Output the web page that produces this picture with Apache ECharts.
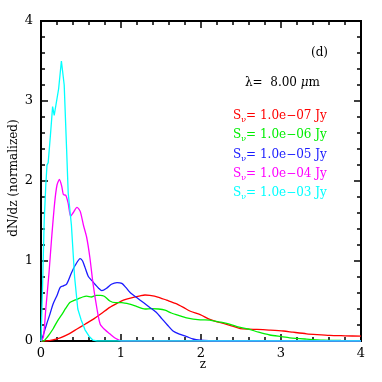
<!DOCTYPE html>
<html>
<head>
<meta charset="utf-8">
<script src="https://cdn.jsdelivr.net/npm/echarts@6/dist/echarts.min.js"></script>
<style>
  html, body { margin: 0; padding: 0; background: #fff; }
  #chart { width: 382px; height: 382px; }
</style>
</head>
<body>
<div id="chart"></div>
<script>
// dN/dz curves, [z, value]
var red = [[0,0],[0.05,0],[0.15,0.015],[0.24,0.04],[0.35,0.09],[0.45,0.15],[0.55,0.21],[0.65,0.27],[0.75,0.34],[0.86,0.42],[0.95,0.47],[1.03,0.51],[1.13,0.54],[1.24,0.565],[1.3,0.575],[1.36,0.57],[1.46,0.55],[1.57,0.51],[1.68,0.47],[1.78,0.42],[1.86,0.375],[1.99,0.33],[2.11,0.27],[2.2,0.24],[2.28,0.22],[2.38,0.19],[2.49,0.155],[2.6,0.148],[2.7,0.145],[2.85,0.137],[3.03,0.125],[3.15,0.11],[3.32,0.09],[3.45,0.08],[3.61,0.07],[3.8,0.065],[4.0,0.06]];
var green = [[0,0],[0.03,0],[0.08,0.05],[0.15,0.15],[0.2,0.24],[0.26,0.33],[0.31,0.41],[0.36,0.48],[0.42,0.51],[0.47,0.53],[0.52,0.55],[0.57,0.56],[0.63,0.55],[0.69,0.57],[0.74,0.57],[0.79,0.56],[0.86,0.5],[0.93,0.48],[1.01,0.48],[1.11,0.46],[1.2,0.43],[1.3,0.4],[1.38,0.405],[1.47,0.4],[1.55,0.385],[1.63,0.35],[1.72,0.32],[1.82,0.29],[1.99,0.265],[2.11,0.262],[2.22,0.24],[2.32,0.22],[2.45,0.18],[2.59,0.15],[2.72,0.11],[2.86,0.075],[3.0,0.055],[3.11,0.04],[3.3,0.025],[3.53,0.01],[3.75,0.006],[4.0,0.005]];
var blue = [[0,0],[0.03,0.08],[0.07,0.21],[0.11,0.33],[0.15,0.46],[0.2,0.57],[0.24,0.67],[0.28,0.69],[0.32,0.71],[0.38,0.85],[0.43,0.95],[0.49,1.03],[0.52,1.0],[0.55,0.92],[0.59,0.81],[0.63,0.76],[0.675,0.71],[0.72,0.66],[0.76,0.63],[0.82,0.66],[0.88,0.71],[0.95,0.73],[1.01,0.72],[1.06,0.67],[1.12,0.6],[1.2,0.54],[1.28,0.48],[1.36,0.42],[1.44,0.36],[1.51,0.28],[1.58,0.2],[1.65,0.125],[1.73,0.085],[1.82,0.055],[1.9,0.025],[1.99,0.01],[2.1,0.003],[2.3,0],[4,0]];
var magenta = [[0,0],[0.03,0.05],[0.06,0.4],[0.1,0.85],[0.13,1.25],[0.17,1.72],[0.2,1.95],[0.23,2.02],[0.26,1.93],[0.28,1.83],[0.31,1.82],[0.34,1.72],[0.37,1.56],[0.4,1.6],[0.45,1.67],[0.49,1.62],[0.53,1.45],[0.57,1.3],[0.61,1.05],[0.65,0.72],[0.7,0.4],[0.74,0.21],[0.8,0.14],[0.86,0.09],[0.92,0.04],[0.98,0.01],[1.0,0],[4,0]];
var cyan = [[0,0],[0.02,0.7],[0.04,1.5],[0.06,1.95],[0.075,2.2],[0.09,2.23],[0.1,2.25],[0.12,2.6],[0.145,2.93],[0.165,2.82],[0.19,2.82],[0.22,3.15],[0.255,3.5],[0.29,3.2],[0.32,2.4],[0.34,1.85],[0.38,1.45],[0.42,0.8],[0.46,0.4],[0.5,0.27],[0.55,0.14],[0.6,0.06],[0.65,0.01],[0.7,0],[4,0]];

var fluxLabels = ['1.0e\u221207', '1.0e\u221206', '1.0e\u221205', '1.0e\u221204', '1.0e\u221203'];
var colors = ['#ff0000', '#00ee00', '#1a1aff', '#ff00ff', '#00ffff'];
var curves = [red, green, blue, magenta, cyan];

var FONT = '"DejaVu Serif", serif';
var chart = echarts.init(document.getElementById('chart'));

function frameAxis(pos, showLabel) {
  return {
    show: true, gridIndex: 0, type: 'value', position: pos, min: 0, max: 4, interval: 1,
    axisLine: { show: true, onZero: false, lineStyle: { color: '#000', width: 2 } },
    axisTick: { show: true, inside: true, length: 7, lineStyle: { color: '#000', width: 1.5 } },
    minorTick: { show: true, splitNumber: 5, length: 4, lineStyle: { color: '#000', width: 1.5 } },
    splitLine: { show: false },
    axisLabel: { show: showLabel, fontFamily: FONT, fontSize: 13, color: '#000', margin: pos === 'left' ? 8 : 6 }
  };
}

var graphics = [
  { type: 'text', style: { x: 203, y: 365, text: 'z', font: '12px ' + FONT, fill: '#000', textAlign: 'center', textVerticalAlign: 'middle' } },
  { type: 'text', x: 14, y: 178, rotation: Math.PI / 2,
    style: { x: 0, y: 0, text: 'dN/dz (normalized)', font: '12px ' + FONT, fill: '#000', textAlign: 'center', textVerticalAlign: 'middle' } },
  { type: 'text', style: { x: 328, y: 53, text: '(d)', font: '12px ' + FONT, fill: '#000', textAlign: 'right', textVerticalAlign: 'middle' } },
  { type: 'text', style: { x: 245, y: 83, text: '{n|\u03bb=  8.00 }{i|\u03bc}{n|m}', textVerticalAlign: 'middle',
      rich: { n: { fontFamily: FONT, fontSize: 12, fill: '#000' }, i: { fontFamily: FONT, fontSize: 12, fontStyle: 'italic', fill: '#000' } } } }
];
var legendY = [116, 135, 154.5, 173.5, 193];
fluxLabels.forEach(function (lab, i) {
  graphics.push({ type: 'text', style: {
    x: 233, y: legendY[i], textVerticalAlign: 'middle',
    text: '{s|S}{b|\u03bd}{s|= ' + lab + ' Jy}',
    rich: {
      s: { fontFamily: FONT, fontSize: 12, lineHeight: 16, fill: colors[i] },
      b: { fontFamily: FONT, fontSize: 8, lineHeight: 8, verticalAlign: 'bottom', fill: colors[i] }
    }
  } });
});

var series = curves.map(function (pts, i) {
  return {
    type: 'line', data: pts, xAxisIndex: 0, yAxisIndex: 0,
    showSymbol: false, symbol: 'none', smooth: i === 4 ? false : 0.25,
    lineStyle: { color: colors[i], width: 1.3 }, z: 2 + i
  };
});

chart.setOption({
  animation: false,
  grid: { left: 41, top: 21, width: 320, height: 320, outerBoundsMode: 'none',
          show: true, borderColor: '#000', borderWidth: 2, backgroundColor: 'transparent' },
  xAxis: [frameAxis('bottom', true), frameAxis('top', false)],
  yAxis: [frameAxis('left', true), frameAxis('right', false)],
  series: series,
  graphic: graphics
});
</script>
</body>
</html>
